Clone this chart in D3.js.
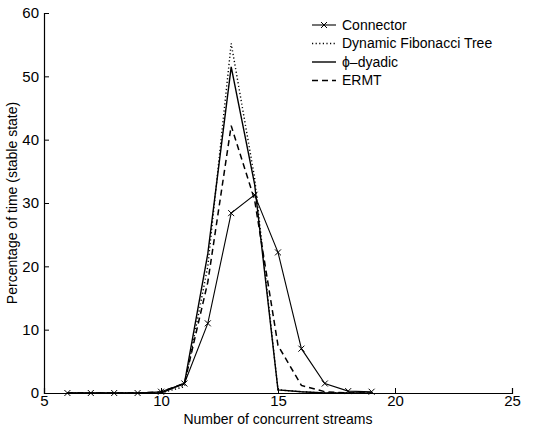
<!DOCTYPE html>
<html>
<head>
<meta charset="utf-8">
<script src="https://cdn.jsdelivr.net/npm/d3@7"></script>
<style>
  html, body { margin: 0; padding: 0; background: #fff; }
  svg { display: block; font-family: "Liberation Sans", Arial, Helvetica, sans-serif; }
</style>
</head>
<body>
<svg id="chart" width="538" height="428"></svg>
<script>
// Share of time (stable state) spent at each number of concurrent streams
const streams = [6, 7, 8, 9, 10, 11, 12, 13, 14, 15, 16, 17, 18, 19];
const connector = [0, 0, 0, 0, 0.2, 1.5, 11, 28.4, 31.3, 22.2, 7, 1.5, 0.3, 0.2];
const fibonacci = [0, 0, 0, 0, 0, 1, 20, 55.2, 34, 0.5, 0.2, 0, 0, 0];
const phiDyadic = [0, 0, 0, 0, 0, 1.5, 22, 51.5, 33, 0.5, 0.2, 0, 0, 0];
const ermt      = [0, 0, 0, 0, 0.2, 1.5, 17.5, 42.2, 30.5, 7.5, 1.2, 0.2, 0, 0];
const xTicks = [5, 10, 15, 20, 25];
const yTicks = [0, 10, 20, 30, 40, 50, 60];
const seriesNames = ["Connector", "Dynamic Fibonacci Tree", "\u03D5\u2013dyadic", "ERMT"];

const svg = d3.select("#chart");
const m = { left: 44, right: 26, top: 13, bottom: 35 };
const W = 538, H = 428;

const x = d3.scaleLinear().domain([5, 25]).range([m.left, W - m.right]);
const y = d3.scaleLinear().domain([0, 60]).range([H - m.bottom, m.top]);

// Axes: ticks point inward, as in a classic plot frame
const xAxis = d3.axisBottom(x).tickValues(xTicks).tickSize(-5).tickPadding(2).tickFormat(d3.format("d"));
const yAxis = d3.axisLeft(y).tickValues(yTicks).tickSize(-5).tickPadding(5).tickFormat(d3.format("d"));

const gx = svg.append("g").attr("transform", `translate(0,${y(0)})`).call(xAxis);
const gy = svg.append("g").attr("transform", `translate(${x(5)},0)`).call(yAxis);
[gx, gy].forEach(g => {
  g.select(".domain").attr("stroke", "#000").attr("stroke-width", 1.2);
  g.selectAll(".tick line").attr("stroke", "#000").attr("stroke-width", 1);
  g.selectAll(".tick text").attr("fill", "#000").style("font-size", "15px")
    .style("font-family", "'Liberation Sans', Arial, sans-serif");
});
gx.selectAll(".tick text").attr("y", 2).attr("dy", "0.71em");

// Axis titles
svg.append("text")
  .attr("x", 278).attr("y", 424)
  .attr("text-anchor", "middle")
  .style("font-size", "14px")
  .text("Number of concurrent streams");

svg.append("text")
  .attr("transform", `translate(17,${(y(0) + y(60)) / 2}) rotate(-90)`)
  .attr("text-anchor", "middle")
  .style("font-size", "14px")
  .text("Percentage of time (stable state)");

// Series lines
const line = d3.line().x((d, i) => x(streams[i])).y(d => y(d));
const styles = [
  { data: connector, dash: null, width: 1.1 },
  { data: fibonacci, dash: "1.2,2.4", width: 1.4 },
  { data: phiDyadic, dash: null, width: 1.4 },
  { data: ermt, dash: "6,4", width: 1.5 }
];

styles.forEach(s => {
  svg.append("path")
    .datum(s.data)
    .attr("fill", "none")
    .attr("stroke", "#000")
    .attr("stroke-width", s.width)
    .attr("stroke-dasharray", s.dash)
    .attr("d", line);
});

// Cross markers on the Connector series
const mk = 3;
svg.append("g").selectAll("path")
  .data(connector)
  .join("path")
  .attr("transform", (d, i) => `translate(${x(streams[i])},${y(d)})`)
  .attr("d", `M${-mk},${-mk}L${mk},${mk}M${-mk},${mk}L${mk},${-mk}`)
  .attr("stroke", "#000")
  .attr("stroke-width", 1);

// Legend
const legend = svg.append("g").attr("transform", "translate(312,25)");
const rowH = 18.5;
seriesNames.forEach((name, i) => {
  const row = legend.append("g").attr("transform", `translate(0,${i * rowH})`);
  const s = styles[i];
  row.append("line")
    .attr("x1", 0).attr("x2", 24).attr("y1", 0).attr("y2", 0)
    .attr("stroke", "#000")
    .attr("stroke-width", s.width)
    .attr("stroke-dasharray", s.dash);
  if (i === 0) {
    row.append("path")
      .attr("transform", "translate(12,0)")
      .attr("d", `M${-mk},${-mk}L${mk},${mk}M${-mk},${mk}L${mk},${-mk}`)
      .attr("stroke", "#000").attr("stroke-width", 1);
  }
  row.append("text")
    .attr("x", 30).attr("y", 0).attr("dy", "0.35em")
    .style("font-size", "14px")
    .text(name);
});
</script>
</body>
</html>
